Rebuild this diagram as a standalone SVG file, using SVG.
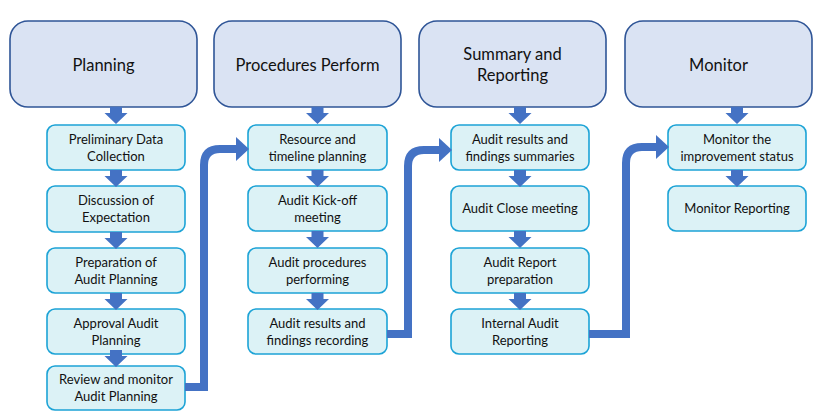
<svg xmlns="http://www.w3.org/2000/svg" width="825" height="419" viewBox="0 0 825 419">
<style>
.hdr{fill:#dae3f3;stroke:#2f5597;stroke-width:1.6}
.box{fill:#dcf2f6;stroke:#1ca3d6;stroke-width:1.6}
.ht{font-family:Lato,"Liberation Sans",sans-serif;font-size:16.5px;fill:#111;text-anchor:middle}
.bt{font-family:Lato,"Liberation Sans",sans-serif;font-size:13px;fill:#111;text-anchor:middle}
.arr{fill:#4472c4}
.con{fill:none;stroke:#4472c4;stroke-width:8;stroke-linejoin:miter}
</style>
<defs>
<path id="down" d="M-6,0 H6 V6 H11.5 L0,17 L-11.5,6 H-6 Z"/>
<marker id="head" markerUnits="userSpaceOnUse" markerWidth="13" markerHeight="24" viewBox="0 0 13 24" refX="0" refY="12" orient="auto">
<path d="M0,0 L13,12 L0,24 Z" fill="#4472c4"/>
</marker>
</defs>

<g id="planning"><rect class="hdr" x="10" y="21" width="187" height="86" rx="18"/><text class="ht" x="103.5" y="71">Planning</text></g>
<g id="procedures"><rect class="hdr" x="214" y="21" width="187" height="86" rx="18"/><text class="ht" x="307.5" y="71">Procedures Perform</text></g>
<g id="summary"><rect class="hdr" x="419" y="21" width="187" height="86" rx="18"/><text class="ht" x="512.5" y="60">Summary and</text><text class="ht" x="512.5" y="81">Reporting</text></g>
<g id="monitor"><rect class="hdr" x="625" y="21" width="187" height="86" rx="18"/><text class="ht" x="718.5" y="71">Monitor</text></g>

<g id="p1"><rect class="box" x="47" y="125" width="138" height="45" rx="8"/><text class="bt" x="116" y="143.5">Preliminary Data</text><text class="bt" x="116" y="160.5">Collection</text></g>
<g id="p2"><rect class="box" x="47" y="186" width="138" height="46" rx="8"/><text class="bt" x="116" y="205">Discussion of</text><text class="bt" x="116" y="222">Expectation</text></g>
<g id="p3"><rect class="box" x="47" y="248" width="138" height="45" rx="8"/><text class="bt" x="116" y="266.5">Preparation of</text><text class="bt" x="116" y="283.5">Audit Planning</text></g>
<g id="p4"><rect class="box" x="47" y="309" width="138" height="45" rx="8"/><text class="bt" x="116" y="327.5">Approval Audit</text><text class="bt" x="116" y="344.5">Planning</text></g>
<g id="p5"><rect class="box" x="47" y="366" width="138" height="44" rx="8"/><text class="bt" x="116" y="384">Review and monitor</text><text class="bt" x="116" y="401">Audit Planning</text></g>

<g id="r1"><rect class="box" x="248" y="125" width="139" height="45" rx="8"/><text class="bt" x="317.5" y="143.5">Resource and</text><text class="bt" x="317.5" y="160.5">timeline planning</text></g>
<g id="r2"><rect class="box" x="248" y="186" width="139" height="45" rx="8"/><text class="bt" x="317.5" y="204.5">Audit Kick-off</text><text class="bt" x="317.5" y="221.5">meeting</text></g>
<g id="r3"><rect class="box" x="248" y="248" width="139" height="45" rx="8"/><text class="bt" x="317.5" y="266.5">Audit procedures</text><text class="bt" x="317.5" y="283.5">performing</text></g>
<g id="r4"><rect class="box" x="248" y="309" width="139" height="45" rx="8"/><text class="bt" x="317.5" y="327.5">Audit results and</text><text class="bt" x="317.5" y="344.5">findings recording</text></g>

<g id="s1"><rect class="box" x="451" y="125" width="138" height="45" rx="8"/><text class="bt" x="520" y="143.5">Audit results and</text><text class="bt" x="520" y="160.5">findings summaries</text></g>
<g id="s2"><rect class="box" x="451" y="186" width="138" height="45" rx="8"/><text class="bt" x="520" y="213">Audit Close meeting</text></g>
<g id="s3"><rect class="box" x="451" y="248" width="138" height="45" rx="8"/><text class="bt" x="520" y="266.5">Audit Report</text><text class="bt" x="520" y="283.5">preparation</text></g>
<g id="s4"><rect class="box" x="451" y="309" width="138" height="45" rx="8"/><text class="bt" x="520" y="327.5">Internal Audit</text><text class="bt" x="520" y="344.5">Reporting</text></g>

<g id="m1"><rect class="box" x="668" y="125" width="138" height="45" rx="8"/><text class="bt" x="737" y="143.5">Monitor the</text><text class="bt" x="737" y="160.5">improvement status</text></g>
<g id="m2"><rect class="box" x="668" y="186" width="138" height="45" rx="8"/><text class="bt" x="737" y="213">Monitor Reporting</text></g>

<g id="connectors">
<use href="#down" class="arr" x="116" y="107"/>
<use href="#down" class="arr" x="116" y="170"/>
<use href="#down" class="arr" x="116" y="232"/>
<use href="#down" class="arr" x="116" y="293"/>
<use href="#down" class="arr" x="116" y="350"/>
<use href="#down" class="arr" x="317.5" y="107"/>
<use href="#down" class="arr" x="317.5" y="170"/>
<use href="#down" class="arr" x="317.5" y="231"/>
<use href="#down" class="arr" x="317.5" y="293"/>
<use href="#down" class="arr" x="520" y="107"/>
<use href="#down" class="arr" x="520" y="170"/>
<use href="#down" class="arr" x="520" y="231"/>
<use href="#down" class="arr" x="520" y="293"/>
<use href="#down" class="arr" x="737" y="107"/>
<use href="#down" class="arr" x="737" y="170"/>
<path class="con" d="M185,387 H204 V165 Q204,149 220,149 H236" marker-end="url(#head)"/>
<path class="con" d="M387,334 H408 V166 Q408,150 424,150 H439" marker-end="url(#head)"/>
<path class="con" d="M589,334 H626 V163 Q626,147 642,147 H656" marker-end="url(#head)"/>
</g>
</svg>
